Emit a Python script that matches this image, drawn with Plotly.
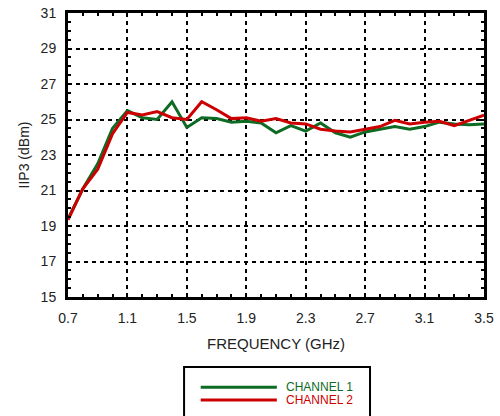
import plotly.graph_objects as go

# Frequency sweep (GHz)
freq = [0.7, 0.8, 0.9, 1.0, 1.1, 1.2, 1.3, 1.4, 1.5, 1.6, 1.7, 1.8, 1.9, 2.0, 2.1,
        2.2, 2.3, 2.4, 2.5, 2.6, 2.7, 2.8, 2.9, 3.0, 3.1, 3.2, 3.3, 3.4, 3.5]

# IIP3 per channel (dBm)
ch1_iip3 = [19.4, 21.1, 22.5, 24.5, 25.5, 25.1, 25.0, 26.0, 24.55, 25.1, 25.05, 24.85, 24.9, 24.8, 24.25,
            24.65, 24.35, 24.8, 24.25, 24.0, 24.3, 24.45, 24.6, 24.45, 24.6, 24.85, 24.75, 24.7, 24.75]
ch2_iip3 = [19.35, 21.1, 22.2, 24.2, 25.4, 25.25, 25.45, 25.1, 25.0, 26.0, 25.55, 25.05, 25.1, 24.9, 25.05,
            24.8, 24.75, 24.45, 24.35, 24.3, 24.45, 24.6, 24.95, 24.75, 24.85, 24.9, 24.65, 24.95, 25.25]

series_names = ["CHANNEL 1", "CHANNEL 2"]
series_colors = ["#0e6b24", "#cc0000"]

x_ticks = [0.7, 1.1, 1.5, 1.9, 2.3, 2.7, 3.1, 3.5]
y_ticks = [15, 17, 19, 21, 23, 25, 27, 29, 31]

FONT = "Arial, Liberation Sans, Helvetica, sans-serif"

fig = go.Figure()
for ys, name, col in zip([ch1_iip3, ch2_iip3], series_names, series_colors):
    fig.add_trace(go.Scatter(x=freq, y=ys, mode="lines", name=name,
                             line=dict(color=col, width=3), showlegend=False))

axis_common = dict(
    showline=True, linecolor="black", linewidth=3, mirror="ticks",
    ticks="inside", tickcolor="black", ticklen=4, tickwidth=1.5,
    showgrid=True, gridcolor="black", gridwidth=2, griddash="4px,4px",
    zeroline=False, automargin=False,
    tickfont=dict(family=FONT, size=14, color="#222"),
)

fig.update_xaxes(
    range=[0.7, 3.5], tickvals=x_ticks, ticktext=[f"{v:.1f}" for v in x_ticks],
    minor=dict(dtick=0.1, tick0=0.7, ticks="inside", ticklen=3, tickcolor="black", showgrid=False),
    title=dict(text="FREQUENCY (GHz)", font=dict(family=FONT, size=15, color="#222"), standoff=14),
    ticklabelstandoff=6,
    **axis_common,
)
fig.update_yaxes(
    range=[15, 31], tickvals=y_ticks,
    minor=dict(dtick=0.5, tick0=15, ticks="inside", ticklen=3, tickcolor="black", showgrid=False),
    title=dict(text="IIP3 (dBm)", font=dict(family=FONT, size=14, color="#222"), standoff=8),
    ticklabelstandoff=6,
    **axis_common,
)

# Boxed legend below the plot
box_x0, box_x1 = 0.279, 0.726
fig.add_shape(type="rect", xref="paper", yref="paper", x0=box_x0, x1=box_x1, y0=-0.46, y1=-0.2465,
              line=dict(color="black", width=2), fillcolor="white", layer="above")
for i, (name, col) in enumerate(zip(series_names, series_colors)):
    yy = -0.318 - i * 0.0447
    fig.add_shape(type="line", xref="paper", yref="paper", x0=0.319, x1=0.502, y0=yy, y1=yy,
                  line=dict(color=col, width=3))
    fig.add_annotation(xref="paper", yref="paper", x=0.5216, y=yy, text=name, showarrow=False,
                       xanchor="left", yanchor="middle", height=12, borderpad=0,
                       font=dict(family=FONT, size=12, color=col))

fig.update_layout(
    width=500, height=416,
    margin=dict(l=68, r=16, t=13, b=119),
    paper_bgcolor="white", plot_bgcolor="white",
)

fig.write_html("out.html")
